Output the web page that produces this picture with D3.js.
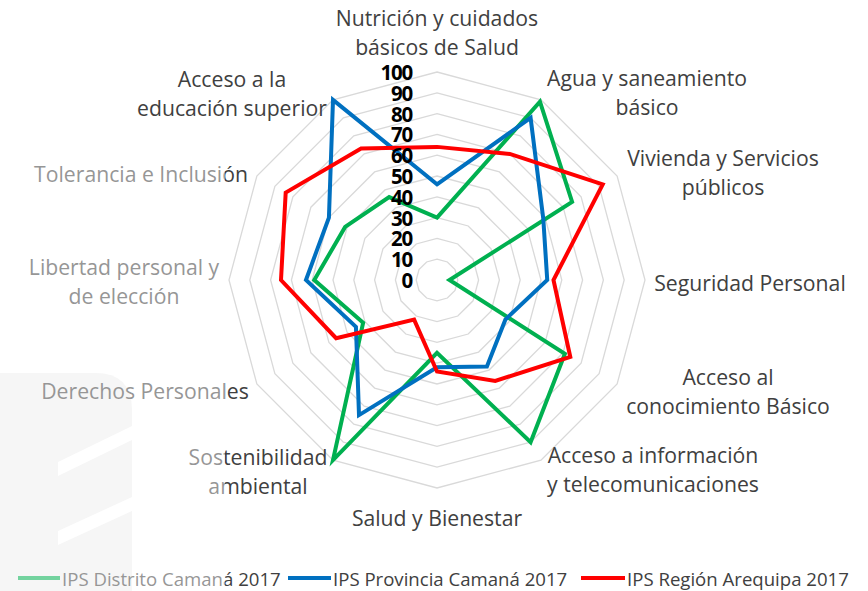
<!DOCTYPE html>
<html>
<head>
<meta charset="utf-8">
<script src="https://cdn.jsdelivr.net/npm/d3@7/dist/d3.min.js"></script>
<style>
  html, body { margin: 0; padding: 0; background: #ffffff; }
  svg { display: block; }
  .axis-label { font-family: "Open Sans", "Noto Sans", sans-serif; font-size: 21.2px; fill: #404040; }
  .tick-label { font-family: "Open Sans", "Noto Sans", sans-serif; font-size: 20.5px; font-weight: 700; fill: #000000; letter-spacing: -1.2px; }
  .legend-label { font-family: "Open Sans", "Noto Sans", sans-serif; font-size: 18.6px; fill: #404040; }
</style>
</head>
<body>
<svg id="chart" width="868" height="591"></svg>
<script>
// Dimension names, clockwise from the top
const categories = [
  "Nutrición y cuidados básicos de Salud",
  "Agua y saneamiento básico",
  "Vivienda y Servicios públicos",
  "Seguridad Personal",
  "Acceso al conocimiento Básico",
  "Acceso a información y telecomunicaciones",
  "Salud y Bienestar",
  "Sostenibilidad ambiental",
  "Derechos Personales",
  "Libertad personal y de elección",
  "Tolerancia e Inclusión",
  "Acceso a la educación superior"
];

// How each category name is broken onto lines
const categoryLines = [
  ["Nutrición y cuidados", "básicos de Salud"],
  ["Agua y saneamiento", "básico"],
  ["Vivienda y Servicios", "públicos"],
  ["Seguridad Personal"],
  ["Acceso al", "conocimiento Básico"],
  ["Acceso a información", "y telecomunicaciones"],
  ["Salud y Bienestar"],
  ["Sostenibilidad", "ambiental"],
  ["Derechos Personales"],
  ["Libertad personal y", "de elección"],
  ["Tolerancia e Inclusión"],
  ["Acceso a la", "educación superior"]
];

const seriesNames = ["IPS Distrito Camaná 2017", "IPS Provincia Camaná 2017", "IPS Región Arequipa 2017"];

const distritoCamana  = [30, 99, 75,  6, 71, 90, 35, 100, 41, 59, 51, 46];
const provinciaCamana = [46, 90, 59, 53, 38, 48, 42,  75, 45, 63, 60, 100];
const regionArequipa  = [64, 70, 92, 56, 74, 56, 44,  22, 56, 75, 84, 73];

const tickValues = [0, 10, 20, 30, 40, 50, 60, 70, 80, 90, 100];

// Layout
const width = 868, height = 591;
const cx = 437, cy = 280, R = 208;
const seriesColors = ["#00b050", "#0070c0", "#ff0000"];

// Centre of each category label block and its line spacing
const labelCenters = [
  [437, 32], [647, 92], [723, 172], [750, 282],
  [728, 391], [653, 469], [437, 517], [258, 471],
  [145, 390], [124, 281], [141, 173], [232, 93]
];
const lineStep = 29;

const svg = d3.select("#chart");

// faint watermark block in the lower-left corner
const wm = svg.append("g");
wm.append("path")
  .attr("d", "M0,373 L95,373 Q132,373 132,410 L132,591 L0,591 Z")
  .attr("fill", "#eeeeee");
wm.append("path")
  .attr("d", "M58,462 L132,426 L132,440 L58,476 Z")
  .attr("fill", "#ffffff");
wm.append("path")
  .attr("d", "M58,531 L132,497 L132,511 L58,545 Z")
  .attr("fill", "#ffffff");

const n = categories.length;
const angle = d3.scaleLinear().domain([0, n]).range([0, 2 * Math.PI]);
const r = d3.scaleLinear().domain([0, 100]).range([0, R]);

const plot = svg.append("g").attr("transform", `translate(${cx},${cy})`);

// concentric grid polygons
const ringLine = d3.lineRadial()
  .angle((d, i) => angle(i))
  .radius(d => r(d))
  .curve(d3.curveLinearClosed);

plot.append("g").selectAll("path")
  .data(tickValues.filter(t => t > 0))
  .join("path")
  .attr("d", t => ringLine(d3.range(n).map(() => t)))
  .attr("fill", "none")
  .attr("stroke", "#d9d9d9")
  .attr("stroke-width", 1.3);

// data series
const seriesData = [distritoCamana, provinciaCamana, regionArequipa];
const seriesLine = d3.lineRadial()
  .angle((d, i) => angle(i))
  .radius(d => r(d))
  .curve(d3.curveLinearClosed);

plot.append("g").selectAll("path")
  .data(seriesData)
  .join("path")
  .attr("d", d => seriesLine(d))
  .attr("fill", "none")
  .attr("stroke", (d, i) => seriesColors[i])
  .attr("stroke-width", 4)
  .attr("stroke-linejoin", "miter");

// radial tick labels along the top spoke
plot.append("g").selectAll("text")
  .data(tickValues)
  .join("text")
  .attr("class", "tick-label")
  .attr("x", -25)
  .attr("y", t => -r(t))
  .attr("text-anchor", "end")
  .attr("dominant-baseline", "central")
  .text(t => t);

// category labels
const labels = svg.append("g");
categoryLines.forEach((lines, i) => {
  const [lx, ly] = labelCenters[i];
  const y0 = ly - (lines.length - 1) * lineStep / 2;
  const t = labels.append("text")
    .attr("class", "axis-label")
    .attr("text-anchor", "middle");
  lines.forEach((s, j) => {
    t.append("tspan")
      .attr("x", lx)
      .attr("y", y0 + j * lineStep)
      .attr("dominant-baseline", "central")
      .text(s);
  });
});

// legend
const legendItems = [
  { x0: 18, x1: 60, tx: 62 },
  { x0: 288, x1: 331, tx: 333 },
  { x0: 581, x1: 625, tx: 627 }
];
const legendY = 578;
const legend = svg.append("g");
seriesNames.forEach((name, i) => {
  const it = legendItems[i];
  legend.append("line")
    .attr("x1", it.x0).attr("x2", it.x1)
    .attr("y1", legendY).attr("y2", legendY)
    .attr("stroke", seriesColors[i])
    .attr("stroke-width", 4);
  legend.append("text")
    .attr("class", "legend-label")
    .attr("x", it.tx)
    .attr("y", legendY)
    .attr("dominant-baseline", "central")
    .text(name);
});

// translucent white veil over the left margin
svg.append("rect")
  .attr("x", 0).attr("y", 140)
  .attr("width", 225).attr("height", height - 140)
  .attr("fill", "#ffffff")
  .attr("fill-opacity", 0.45);
</script>
</body>
</html>
